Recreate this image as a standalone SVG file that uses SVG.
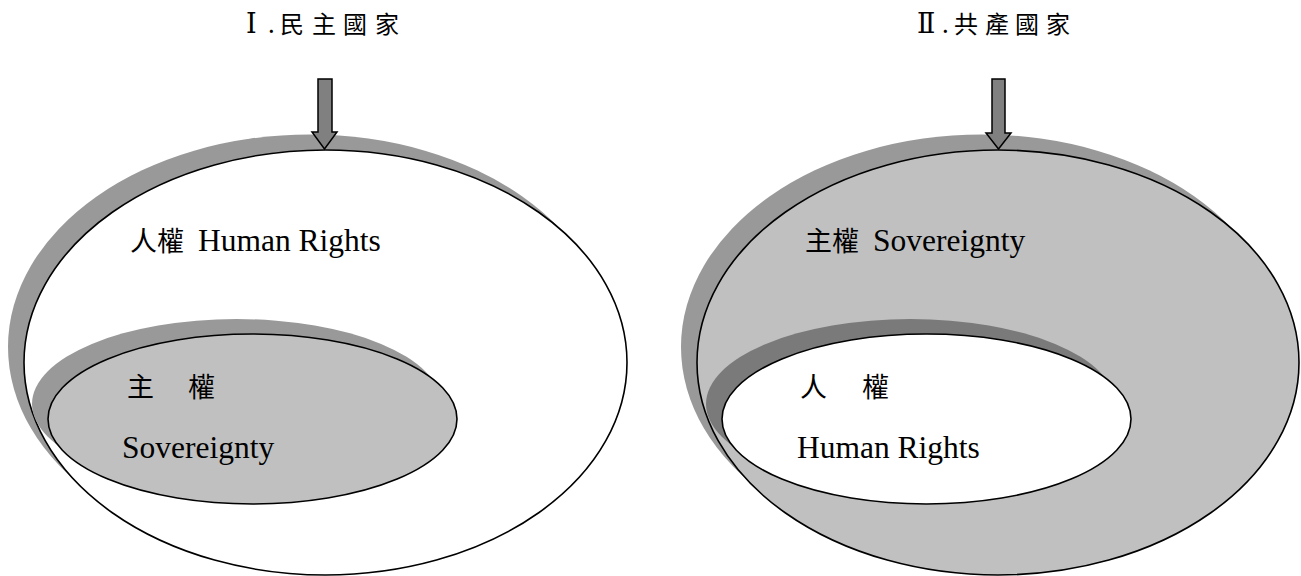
<svg xmlns="http://www.w3.org/2000/svg" width="1301" height="576" viewBox="0 0 1301 576">
<style>
  .shadow { fill: #999999; stroke: none; }
  .shadow-dark { fill: #7a7a7a; stroke: none; }
  .outline { stroke: #000000; stroke-width: 1.6; }
  .white { fill: #ffffff; }
  .gray { fill: #c0c0c0; }
  .arrow { fill: #808080; stroke: #000000; stroke-width: 1.5; stroke-linejoin: miter; }
  .label { font-family: "Liberation Serif", "Noto Sans CJK TC", serif; font-size: 31.5px; fill: #000000; }
  .cjk { font-family: "Noto Sans CJK TC", serif; font-size: 27px; }
  .title { font-family: "Noto Sans CJK TC", "Liberation Serif", serif; font-size: 24px; fill: #000000; }
  .num { font-family: "Liberation Serif", "DejaVu Serif", "Noto Sans CJK TC", serif; font-size: 27px; }
</style>
<rect x="0" y="0" width="1301" height="576" fill="#ffffff"/>

<g id="title-left">
  <text class="title" y="33"><tspan class="num" x="246">Ⅰ</tspan><tspan x="268">.</tspan><tspan x="280">民</tspan><tspan x="312">主</tspan><tspan x="343">國</tspan><tspan x="375">家</tspan></text>
</g>
<g id="title-right">
  <text class="title" y="33"><tspan class="num" x="917">Ⅱ</tspan><tspan x="942">.</tspan><tspan x="954">共</tspan><tspan x="985">產</tspan><tspan x="1015">國</tspan><tspan x="1046">家</tspan></text>
</g>

<g id="node-left-outer">
  <ellipse class="shadow" cx="309.5" cy="347" rx="301.5" ry="212.5"/>
  <ellipse class="outline white" cx="325.5" cy="362.5" rx="301.5" ry="212.5"/>
  <text class="label" y="251"><tspan class="cjk" x="130">人權</tspan> <tspan x="198">Human Rights</tspan></text>
</g>
<g id="node-left-inner">
  <ellipse class="shadow" cx="236.5" cy="404" rx="204.5" ry="85"/>
  <ellipse class="outline gray" cx="252.5" cy="419" rx="204.5" ry="85"/>
  <text class="label" y="397"><tspan class="cjk" x="127">主</tspan><tspan class="cjk">　</tspan><tspan class="cjk" x="188">權</tspan></text>
  <text class="label" x="122" y="458">Sovereignty</text>
</g>

<g id="node-right-outer">
  <ellipse class="shadow" cx="982" cy="347" rx="301" ry="212.5"/>
  <ellipse class="outline gray" cx="998" cy="362.5" rx="301" ry="212.5"/>
  <text class="label" y="251"><tspan class="cjk" x="805">主權</tspan> <tspan x="873">Sovereignty</tspan></text>
</g>
<g id="node-right-inner">
  <ellipse class="shadow-dark" cx="910.5" cy="404" rx="204.5" ry="85"/>
  <ellipse class="outline white" cx="926.5" cy="419" rx="204.5" ry="85"/>
  <text class="label" y="397"><tspan class="cjk" x="800">人</tspan><tspan class="cjk">　</tspan><tspan class="cjk" x="862">權</tspan></text>
  <text class="label" x="797" y="458">Human Rights</text>
</g>

<g id="connectors">
  <polygon class="arrow" points="318,79 332,79 332,132 337,132 324.5,149 312,132 318,132"/>
  <polygon class="arrow" points="992,79 1005,79 1005,133 1011,133 998.5,149 986,133 992,133"/>
</g>
</svg>
